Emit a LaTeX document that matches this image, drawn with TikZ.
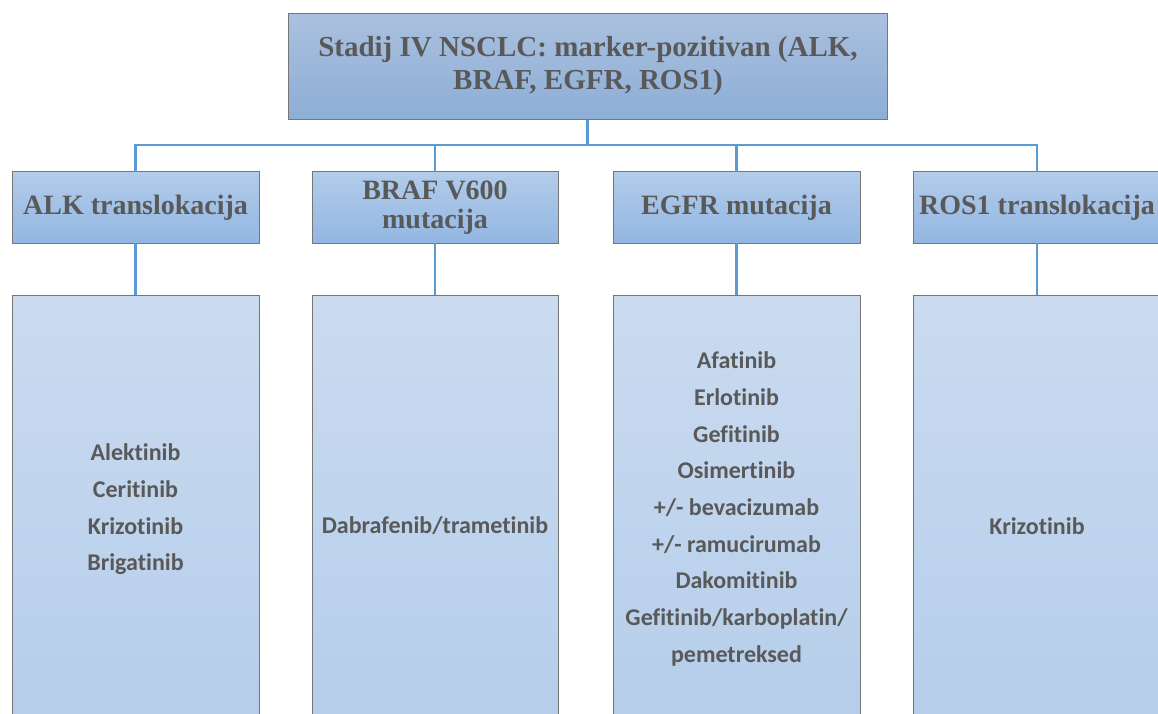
\documentclass[tikz,border=0pt]{standalone}
\usepackage{fontspec}
\setmainfont{Liberation Serif}
\newfontfamily\bodyfont[Ligatures=NoCommon]{Carlito}
\begin{document}
\begin{tikzpicture}[x=1pt,y=-1pt,
  conn/.style={draw=linkblue,line width=2.6pt},
  topbox/.style={draw=boxgrey,line width=1pt,top color=topA,bottom color=topB},
  midbox/.style={draw=boxgrey,line width=1pt,top color=midA,bottom color=midB},
  lowbox/.style={draw=boxgrey,line width=1pt,top color=lowA,bottom color=lowB},
  headtxt/.style={font=\fontsize{29}{33}\selectfont\bfseries,text=txtgrey,align=center,inner sep=0pt},
  midtxt/.style={font=\fontsize{28}{29.5}\selectfont\bfseries,text=txtgrey,align=center,inner sep=0pt},
  listtxt/.style={font=\bodyfont\fontsize{24}{36.7}\selectfont\bfseries,text=txtgrey,align=center,inner sep=0pt}
]
\definecolor{linkblue}{HTML}{5B9BD5}
\definecolor{boxgrey}{HTML}{767676}
\definecolor{topA}{HTML}{AAC0DE}
\definecolor{topB}{HTML}{8DAED6}
\definecolor{midA}{HTML}{B2CCEA}
\definecolor{midB}{HTML}{93B6E2}
\definecolor{lowA}{HTML}{CADBF0}
\definecolor{lowB}{HTML}{B5CDEA}
\definecolor{txtgrey}{HTML}{595959}
\useasboundingbox (0,0) rectangle (1158,714);
\clip (0,0) rectangle (1158,714);
\fill[white] (0,0) rectangle (1158,714);

% top box
\path[topbox] (288,14) rectangle (887,120);
\node[headtxt] (top) at (588,66) {Stadij IV NSCLC: marker-pozitivan (ALK,\\BRAF, EGFR, ROS1)};
\coordinate (topb) at (587.5,120);
\coordinate (bus) at (587.5,145);

% level 2 boxes
\path[midbox] (12,172) rectangle (259,243);
\path[midbox] (312,172) rectangle (558,243);
\path[midbox] (613,172) rectangle (860,243);
\path[midbox] (913,172) rectangle (1162,243);
\node[midtxt] (alk) at (135.5,207.5) {ALK translokacija};
\node[midtxt] (braf) at (435,207.5) {BRAF V600\\mutacija};
\node[midtxt] (egfr) at (736.5,207.5) {EGFR mutacija};
\node[midtxt] (ros) at (1037,207.5) {ROS1 translokacija};

% level 3 boxes
\path[lowbox] (12,295) rectangle (259,730);
\path[lowbox] (312,295) rectangle (558,730);
\path[lowbox] (613,295) rectangle (860,730);
\path[lowbox] (913,295) rectangle (1162,730);
\node[listtxt] (alkl) at (135.5,509.5) {Alektinib\\Ceritinib\\Krizotinib\\Brigatinib};
\node[listtxt] (brafl) at (435,526) {Dabrafenib/trametinib};
\node[listtxt] (egfrl) at (736.5,509) {Afatinib\\Erlotinib\\Gefitinib\\Osimertinib\\+/- bevacizumab\\+/- ramucirumab\\Dakomitinib\\Gefitinib/karboplatin/\\pemetreksed};
\node[listtxt] (rosl) at (1037,526) {Krizotinib};

% anchor coordinates
\coordinate (alkT) at (135.5,172); \coordinate (alkB) at (135.5,243); \coordinate (alkL) at (135.5,295);
\coordinate (brafT) at (435,172); \coordinate (brafB) at (435,243); \coordinate (brafL) at (435,295);
\coordinate (egfrT) at (736.5,172); \coordinate (egfrB) at (736.5,243); \coordinate (egfrL) at (736.5,295);
\coordinate (rosT) at (1037,172); \coordinate (rosB) at (1037,243); \coordinate (rosL) at (1037,295);

% connectors
\draw[conn] (topb) -- (bus);
\draw[conn] (alkT) |- (bus) -| (rosT);
\draw[conn] (brafT) -- (brafT |- bus);
\draw[conn] (egfrT) -- (egfrT |- bus);
\draw[conn] (alkB) -- (alkL);
\draw[conn] (brafB) -- (brafL);
\draw[conn] (egfrB) -- (egfrL);
\draw[conn] (rosB) -- (rosL);
\end{tikzpicture}
\end{document}
